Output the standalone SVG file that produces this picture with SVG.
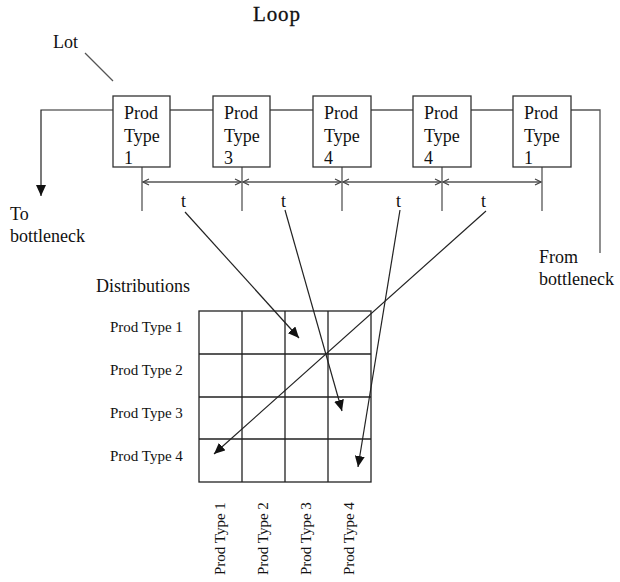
<svg xmlns="http://www.w3.org/2000/svg" width="620" height="582" viewBox="0 0 620 582">
<defs>
<style>
text{font-family:"Liberation Serif","Times New Roman",serif;fill:#111}
.lbl{font-size:18px}
.small{font-size:15px}
.box{fill:#fff;stroke:#333;stroke-width:1.3}
.ln{fill:none;stroke:#555;stroke-width:1.3}
.blk{fill:none;stroke:#222;stroke-width:1.2}
.grid{fill:none;stroke:#222;stroke-width:1.3}
.dim{fill:none;stroke:#555;stroke-width:1.3;marker-start:url(#openS);marker-end:url(#openE)}
</style>
<marker id="fill" markerWidth="12" markerHeight="10" refX="11" refY="5" orient="auto" markerUnits="userSpaceOnUse">
<path d="M0,0 L11,5 L0,10 Z" fill="#111"/>
</marker>
<marker id="openE" markerWidth="8" markerHeight="8" refX="7" refY="4" orient="auto" markerUnits="userSpaceOnUse">
<path d="M1,1 L7,4 L1,7" fill="none" stroke="#444" stroke-width="1.2"/>
</marker>
<marker id="openS" markerWidth="8" markerHeight="8" refX="1" refY="4" orient="auto" markerUnits="userSpaceOnUse">
<path d="M7,1 L1,4 L7,7" fill="none" stroke="#444" stroke-width="1.2"/>
</marker>
</defs>
<rect width="620" height="582" fill="#fff"/>

<text x="253" y="21" font-size="21" textLength="47" stroke="#111" stroke-width="0.3">Loop</text>
<text x="53" y="48" class="lbl">Lot</text>

<g id="connectors">
<line x1="85" y1="53" x2="113" y2="81" class="ln"/>
<polyline points="113,110 41,110 41,196" class="blk" marker-end="url(#fill)"/>
<line x1="170" y1="110" x2="213" y2="110" class="ln"/>
<line x1="270" y1="110" x2="313" y2="110" class="ln"/>
<line x1="371" y1="110" x2="413" y2="110" class="ln"/>
<line x1="471" y1="110" x2="513" y2="110" class="ln"/>
<polyline points="571,110 600,110 600,253" class="ln"/>
<line x1="142" y1="167" x2="142" y2="211" class="ln"/>
<line x1="242" y1="167" x2="242" y2="211" class="ln"/>
<line x1="342" y1="167" x2="342" y2="211" class="ln"/>
<line x1="442" y1="167" x2="442" y2="211" class="ln"/>
<line x1="542" y1="167" x2="542" y2="211" class="ln"/>
<line x1="143" y1="182" x2="241" y2="182" class="dim"/>
<line x1="243" y1="182" x2="341" y2="182" class="dim"/>
<line x1="343" y1="182" x2="441" y2="182" class="dim"/>
<line x1="443" y1="182" x2="541" y2="182" class="dim"/>
<line x1="185" y1="212" x2="299" y2="338" class="blk" marker-end="url(#fill)"/>
<line x1="285" y1="210" x2="342" y2="411" class="blk" marker-end="url(#fill)"/>
<line x1="400" y1="210" x2="358" y2="467" class="blk" marker-end="url(#fill)"/>
<line x1="486" y1="211" x2="214" y2="454" class="blk" marker-end="url(#fill)"/>
</g>

<g id="lot1"><rect x="113" y="96" width="57" height="71" class="box"/>
<text x="124" y="119" class="lbl">Prod</text><text x="124" y="142" class="lbl">Type</text><text x="124" y="164" class="lbl">1</text></g>
<g id="lot2"><rect x="213" y="96" width="57" height="71" class="box"/>
<text x="224" y="119" class="lbl">Prod</text><text x="224" y="142" class="lbl">Type</text><text x="224" y="164" class="lbl">3</text></g>
<g id="lot3"><rect x="313" y="96" width="58" height="71" class="box"/>
<text x="324" y="119" class="lbl">Prod</text><text x="324" y="142" class="lbl">Type</text><text x="324" y="164" class="lbl">4</text></g>
<g id="lot4"><rect x="413" y="96" width="58" height="71" class="box"/>
<text x="424" y="119" class="lbl">Prod</text><text x="424" y="142" class="lbl">Type</text><text x="424" y="164" class="lbl">4</text></g>
<g id="lot5"><rect x="513" y="96" width="58" height="71" class="box"/>
<text x="524" y="119" class="lbl">Prod</text><text x="524" y="142" class="lbl">Type</text><text x="524" y="164" class="lbl">1</text></g>

<g id="t-labels">
<text x="181" y="207" class="lbl">t</text>
<text x="281" y="207" class="lbl">t</text>
<text x="396" y="207" class="lbl">t</text>
<text x="481" y="207" class="lbl">t</text>
</g>

<g id="to-bottleneck"><text x="10" y="220" class="lbl">To</text><text x="10" y="242" class="lbl">bottleneck</text></g>
<g id="from-bottleneck"><text x="539" y="263" class="lbl">From</text><text x="539" y="285" class="lbl">bottleneck</text></g>

<g id="distributions">
<text x="96" y="292" class="lbl">Distributions</text>
<rect x="199" y="311" width="172" height="171" class="grid"/>
<path d="M242,311V482M285,311V482M328,311V482M199,354H371M199,397H371M199,439H371" class="grid"/>
<text x="110" y="332" class="small">Prod Type 1</text>
<text x="110" y="375" class="small">Prod Type 2</text>
<text x="110" y="418" class="small">Prod Type 3</text>
<text x="110" y="461" class="small">Prod Type 4</text>
<text transform="translate(225,575) rotate(-90)" class="small">Prod Type 1</text>
<text transform="translate(268,575) rotate(-90)" class="small">Prod Type 2</text>
<text transform="translate(311,575) rotate(-90)" class="small">Prod Type 3</text>
<text transform="translate(354,575) rotate(-90)" class="small">Prod Type 4</text>
</g>
</svg>
